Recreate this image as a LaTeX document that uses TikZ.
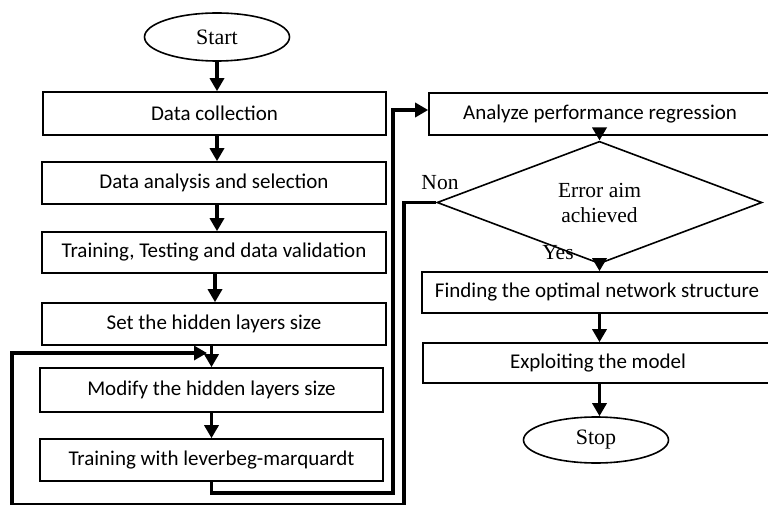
\documentclass[tikz,border=0pt]{standalone}
\usepackage{fontspec}
\setmainfont{Carlito}
\newfontfamily\serifface{Liberation Serif}
\usetikzlibrary{shapes.geometric,arrows.meta}

\begin{document}
\begin{tikzpicture}[x=1pt,y=-1pt,
  box/.style={draw,line width=1.6pt,minimum height=42pt,inner sep=0pt,
    font=\fontsize{21}{24}\selectfont},
  term/.style={draw,ellipse,line width=1.6pt,minimum width=145pt,minimum height=48pt,
    inner sep=0pt,font=\serifface\fontsize{22}{25}\selectfont},
  decision/.style={draw,diamond,line width=1.6pt,minimum width=325pt,minimum height=71pt,
    inner sep=0pt,align=center,font=\serifface\fontsize{21.5}{25}\selectfont},
  lbl/.style={inner sep=0pt,font=\serifface\fontsize{21.5}{25}\selectfont},
  flow/.style={line width=3.5pt,-{Triangle[length=13pt,width=14pt]}},
  wire/.style={line width=3.5pt}
]
\path[use as bounding box] (0,0) rectangle (768,505);
\clip (0,0) rectangle (768,505);

% left column
\node[term] (start) at (217,37) {Start};
\node[box,minimum width=343pt,minimum height=43pt] (dc) at (214.5,113.5) {Data collection};
\node[box,minimum width=344pt] (da) at (214,183) {Data analysis and selection};
\node[box,minimum width=344pt,minimum height=41pt] (tt) at (214,252.5) {Training, Testing and data validation};
\node[box,minimum width=344pt] (sh) at (214,324) {Set the hidden layers size};
\node[box,minimum width=343pt,minimum height=44pt] (mh) at (211.5,390) {Modify the hidden layers size};
\node[box,minimum width=343pt] (tl) at (211.5,460) {Training with leverbeg-marquardt};

% right column
\node[box,minimum width=342pt] (ap) at (600,114) {Analyze performance regression};
\node[decision] (dec) at (599.5,202.5) {Error aim\\achieved};
\node[box,minimum width=350pt,minimum height=41pt] (fo) at (597,292.5) {Finding the optimal network structure};
\node[box,minimum width=350pt,minimum height=40pt] (ex) at (598,363) {Exploiting the model};
\node[term,minimum height=46pt] (stop) at (596,440) {Stop};

\node[lbl] (non) at (440,183) {Non};
\node[lbl] (yes) at (558,253) {Yes};

% straight flow in the left column
\draw[flow] (start.south) -- (start.south |- dc.north);
\draw[flow] (dc.south -| start.south) -- (da.north -| start.south);
\draw[flow] (da.south -| start.south) -- (tt.north -| start.south);
\draw[flow] (tt.south -| 215,0) -- (sh.north -| 215,0);
\draw[flow] (sh.south -| tl.south) -- (mh.north -| tl.south);
\draw[flow] (mh.south -| tl.south) -- (tl.north);

% straight flow in the right column
\draw[flow] (dec.north |- ap.south) -- (dec.north);
\draw[flow] (dec.south) -- (dec.south |- fo.north);
\draw[flow] (fo.south -| dec.south) -- (ex.north -| dec.south);
\draw[flow] (ex.south -| dec.south) -- (stop.north -| dec.south);

% training result goes on to the performance analysis
\coordinate (r1) at (393,493);
\coordinate (r2) at (393,110);
\draw[flow] (tl.south) |- (r1) -- (r2) -- (r2 -| ap.west);

% error aim not reached: back to modifying the hidden layers
\coordinate (l1) at (404,505);
\coordinate (l2) at (12,353);
\coordinate (back) at (207,353);
\draw[flow] (dec.west) -| (l1) -| (l2) -- (back);
\end{tikzpicture}
\end{document}
